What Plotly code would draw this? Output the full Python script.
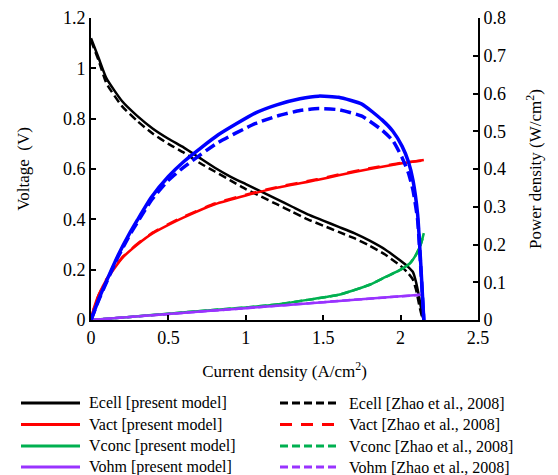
import plotly.graph_objects as go

# ---- data ----
I_e = [0, 0.05, 0.1, 0.2, 0.3, 0.4, 0.5, 0.6, 0.7, 0.8, 0.9, 1.0, 1.1, 1.2, 1.3, 1.4,
       1.5, 1.6, 1.7, 1.8, 1.9, 2.0, 2.05, 2.08, 2.1, 2.12, 2.14, 2.15]
ecell_model = [1.12, 1.04, 0.96, 0.87, 0.81, 0.76, 0.72, 0.685, 0.645, 0.605, 0.57, 0.54,
               0.51, 0.48, 0.45, 0.42, 0.395, 0.37, 0.345, 0.315, 0.28, 0.235, 0.21, 0.19,
               0.15, 0.09, 0.02, 0.0]
ecell_zhao = [1.11, 1.03, 0.94, 0.85, 0.79, 0.74, 0.70, 0.665, 0.625, 0.59, 0.555, 0.52,
              0.49, 0.46, 0.43, 0.40, 0.375, 0.35, 0.325, 0.295, 0.26, 0.215, 0.185, 0.16,
              0.12, 0.06, 0.01, 0.0]

I_a = [0, 0.02, 0.05, 0.1, 0.2, 0.3, 0.4, 0.5, 0.6, 0.8, 1.0, 1.2, 1.46, 1.6, 1.8, 2.0, 2.15]
vact_model = [0, 0.05, 0.1, 0.16, 0.245, 0.3, 0.345, 0.378, 0.408, 0.46, 0.495, 0.525, 0.556,
              0.575, 0.60, 0.622, 0.636]
vact_zhao = [0, 0.05, 0.1, 0.162, 0.248, 0.303, 0.348, 0.381, 0.411, 0.463, 0.498, 0.528,
             0.559, 0.578, 0.603, 0.624, 0.634]

I_c = [0, 0.25, 0.5, 0.75, 1.0, 1.2, 1.4, 1.6, 1.8, 1.9, 2.0, 2.06, 2.1, 2.13, 2.15]
vconc_model = [0, 0.012, 0.025, 0.038, 0.05, 0.062, 0.08, 0.1, 0.14, 0.17, 0.2, 0.225, 0.26,
               0.3, 0.345]
vconc_zhao = [0, 0.012, 0.025, 0.038, 0.05, 0.062, 0.08, 0.1, 0.14, 0.17, 0.2, 0.225, 0.26,
              0.3, 0.34]

I_o = [0, 0.5, 1.0, 1.5, 2.0, 2.13]
vohm_model = [0, 0.024, 0.047, 0.071, 0.094, 0.1]
vohm_zhao = [0, 0.024, 0.047, 0.071, 0.094, 0.1]

I_p = [0, 0.05, 0.1, 0.176, 0.25, 0.3, 0.39, 0.5, 0.6, 0.82, 1.06, 1.2, 1.35, 1.47, 1.6,
       1.75, 1.88, 1.95, 2.01, 2.05, 2.08, 2.11, 2.13, 2.15]
power_model = [0, 0.055, 0.103, 0.172, 0.23, 0.265, 0.325, 0.38, 0.42, 0.49, 0.548, 0.57,
               0.586, 0.593, 0.59, 0.572, 0.53, 0.5, 0.46, 0.42, 0.37, 0.28, 0.15, 0]
power_zhao = [0, 0.053, 0.1, 0.168, 0.225, 0.259, 0.317, 0.37, 0.405, 0.47, 0.52, 0.54,
              0.555, 0.56, 0.557, 0.54, 0.503, 0.475, 0.43, 0.39, 0.344, 0.265, 0.14, 0]

x_ticks = [0, 0.5, 1, 1.5, 2, 2.5]
y_ticks = [0, 0.2, 0.4, 0.6, 0.8, 1, 1.2]
y2_ticks = [0, 0.1, 0.2, 0.3, 0.4, 0.5, 0.6, 0.7, 0.8]

legend_names = ["Ecell", "Vact", "Vconc", "Vohm"]
legend_suffix = ["[present model]", "[Zhao et al., 2008]"]

BLACK, RED, GREEN, PURPLE, BLUE = "#000000", "#FF0000", "#00B050", "#9933FF", "#0000FF"
COLORS = [BLACK, RED, GREEN, PURPLE]
DASHES = ["8px,4px", "12px,9px", "8px,4px", "8px,4px"]
FONT = "Liberation Serif, Times New Roman, Tinos, serif"

W, H = 558, 475
ML, MR, MT, MB = 91, 80, 18, 155
PW, PH = W - ML - MR, H - MT - MB

fig = go.Figure()

def add(x, y, name, color, dash="solid", width=2.5, yaxis="y"):
    fig.add_trace(go.Scatter(x=x, y=y, name=name, mode="lines", yaxis=yaxis,
                             showlegend=False,
                             line=dict(color=color, width=width, dash=dash, shape="spline",
                                       smoothing=0.5)))

# power (right axis)
add(I_p, power_model, "Power [present model]", BLUE, width=3.5, yaxis="y2")
add(I_p, power_zhao, "Power [Zhao et al., 2008]", BLUE, dash="11px,5px", width=3.5,
    yaxis="y2")

series = [(I_e, ecell_model, ecell_zhao), (I_a, vact_model, vact_zhao),
          (I_c, vconc_model, vconc_zhao), (I_o, vohm_model, vohm_zhao)]
for (x, ym, yz), nm, col, dsh in zip(series, legend_names, COLORS, DASHES):
    add(x, ym, f"{nm} {legend_suffix[0]}", col)
    add(x, yz, f"{nm} {legend_suffix[1]}", col, dash=dsh)

# ---- manual legend (paper coordinates from pixel positions) ----
def px_x(px):
    return (px - ML) / PW

def px_y(py):
    return (H - MB - py) / PH

row_y = [403, 424.5, 446, 467]
col_line = [(21, 80), (280, 340)]
col_text = [87, 347]
shapes, annotations = [], []
for r, (nm, col, dsh) in enumerate(zip(legend_names, COLORS, DASHES)):
    for c in range(2):
        x0, x1 = col_line[c]
        shapes.append(dict(type="line", xref="paper", yref="paper",
                           x0=px_x(x0), x1=px_x(x1), y0=px_y(row_y[r]), y1=px_y(row_y[r]),
                           line=dict(color=col, width=3, dash="solid" if c == 0 else dsh)))
        annotations.append(dict(xref="paper", yref="paper", x=px_x(col_text[c]),
                                y=px_y(row_y[r]), xanchor="left", yanchor="middle",
                                text=f"{nm} {legend_suffix[c]}", showarrow=False,
                                font=dict(family=FONT, size=16, color="black")))

axis_common = dict(showline=True, linecolor="black", linewidth=2, ticks="inside",
                   ticklen=5, tickwidth=1.5, tickcolor="black", showgrid=False,
                   zeroline=False, tickfont=dict(family=FONT, size=18, color="black"))

fig.update_layout(
    width=W, height=H,
    margin=dict(l=ML, r=MR, t=MT, b=MB, autoexpand=False),
    paper_bgcolor="white", plot_bgcolor="white",
    font=dict(family=FONT, size=17, color="black"),
    showlegend=False,
    shapes=shapes, annotations=annotations,
    xaxis=dict(range=[0, 2.5], tickvals=x_ticks, ticktext=[f"{v:g}" for v in x_ticks],
               title=dict(text="Current density (A/cm<sup>2</sup>)", standoff=19,
                          font=dict(family=FONT, size=17)),
               **axis_common),
    yaxis=dict(range=[0, 1.2], tickvals=y_ticks, ticktext=[f"{v:g}" for v in y_ticks],
               title=dict(text="Voltage  (V)", standoff=29, font=dict(family=FONT, size=17)),
               **axis_common),
    yaxis2=dict(range=[0, 0.8], tickvals=y2_ticks, ticktext=[f"{v:g}" for v in y2_ticks],
                overlaying="y", side="right",
                title=dict(text="Power density (W/cm<sup>2</sup>)", standoff=24,
                           font=dict(family=FONT, size=17)),
                **axis_common),
)

fig.write_html("out.html", config={"displayModeBar": False},
               post_script="document.body.style.margin='0';"
                           "document.body.style.overflow='hidden';")
